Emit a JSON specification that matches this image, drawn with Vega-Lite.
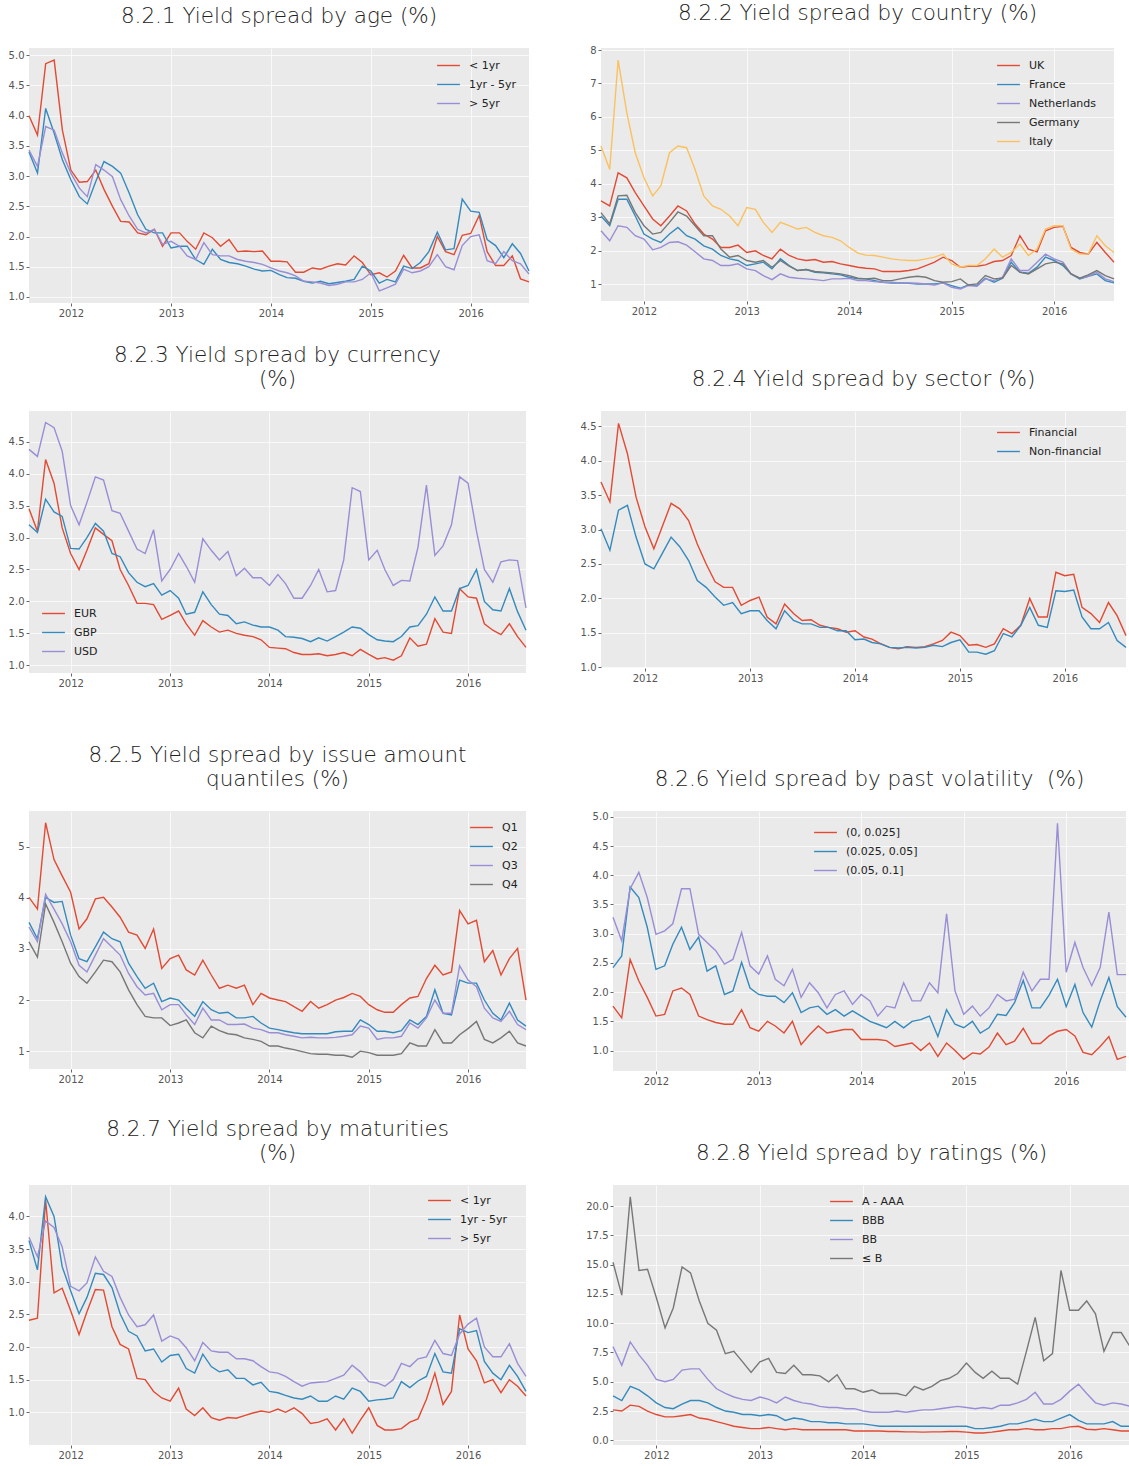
{
"$schema":"https://vega.github.io/schema/vega-lite/v6.json",
"padding":{"left":8,"top":2,"right":0,"bottom":0},
"background":"#ffffff",
"config":{
 "view":{"fill":"#EAEAEA","stroke":null},
 "axis":{"domain":false,"grid":true,"gridColor":"#ffffff","gridWidth":1,"gridOpacity":0.7,"tickColor":"#666666","tickSize":3,"labelColor":"#555555","labelFont":"DejaVu Sans","labelFontSize":10,"labelPadding":2},
 "legend":{"orient":"none","title":null,"symbolType":"stroke","symbolSize":520,"symbolStrokeWidth":1.6,"labelFont":"DejaVu Sans","labelFontSize":11,"labelColor":"#222222","labelOffset":8,"rowPadding":1,"padding":0},
 "title":{"font":"DejaVu Sans","fontWeight":200,"fontSize":21.5,"color":"#222222","offset":21,"anchor":"middle","lineHeight":24},
 "line":{"strokeWidth":1.4,"clip":true}
},
"datasets":{"m":[
{"m":"2011-08","a1":4.0,"a2":3.4,"a3":3.43,"b1":3.49,"b2":3.04,"b3":2.6,"b4":3.14,"b5":5.13,"c1":3.45,"c2":3.2,"c3":4.38,"d1":3.69,"d2":3.01,"e1":4.01,"e2":3.52,"e3":3.43,"e4":3.14,"f1":1.76,"f2":2.42,"f3":3.28,"g1":2.41,"g2":3.63,"g3":3.68,"h1":2.6,"h2":3.8,"h3":8.0,"h4":15.2},
{"m":"2011-09","a1":3.68,"a2":3.05,"a3":3.16,"b1":3.34,"b2":2.75,"b3":2.3,"b4":2.8,"b5":4.43,"c1":3.1,"c2":3.08,"c3":4.27,"d1":3.4,"d2":2.7,"e1":3.78,"e2":3.2,"e3":3.14,"e4":2.84,"f1":1.56,"f2":2.62,"f3":2.88,"g1":2.44,"g2":3.18,"g3":3.38,"h1":2.5,"h2":3.4,"h3":6.4,"h4":12.4},
{"m":"2011-10","a1":4.86,"a2":4.12,"a3":3.82,"b1":4.33,"b2":3.54,"b3":2.75,"b4":3.64,"b5":7.7,"c1":4.22,"c2":3.6,"c3":4.8,"d1":4.54,"d2":3.28,"e1":5.47,"e2":4.01,"e3":4.07,"e4":3.88,"f1":2.56,"f2":3.8,"f3":3.77,"g1":4.25,"g2":4.3,"g3":3.93,"h1":3.0,"h2":4.6,"h3":8.4,"h4":20.8},
{"m":"2011-11","a1":4.92,"a2":3.71,"a3":3.76,"b1":4.18,"b2":3.54,"b3":2.7,"b4":3.66,"b5":6.12,"c1":3.85,"c2":3.4,"c3":4.72,"d1":4.1,"d2":3.35,"e1":4.75,"e2":3.91,"e3":3.78,"e4":3.52,"f1":2.19,"f2":3.62,"f3":4.05,"g1":2.83,"g2":4.0,"g3":3.83,"h1":2.9,"h2":4.3,"h3":7.3,"h4":14.5},
{"m":"2011-12","a1":3.76,"a2":3.27,"a3":3.38,"b1":3.74,"b2":3.04,"b3":2.45,"b4":3.14,"b5":4.93,"c1":3.15,"c2":3.33,"c3":4.35,"d1":3.47,"d2":2.89,"e1":4.43,"e2":3.93,"e3":3.49,"e4":3.14,"f1":1.91,"f2":3.11,"f3":3.62,"g1":2.9,"g2":3.23,"g3":3.53,"h1":2.5,"h2":3.8,"h3":6.4,"h4":14.6},
{"m":"2012-01","a1":3.1,"a2":2.94,"a3":3.05,"b1":3.34,"b2":2.5,"b3":2.35,"b4":2.75,"b5":4.18,"c1":2.75,"c2":2.83,"c3":3.5,"d1":3.04,"d2":2.5,"e1":4.11,"e2":3.27,"e3":3.14,"e4":2.72,"f1":1.59,"f2":2.39,"f3":2.99,"g1":2.56,"g2":2.86,"g3":2.93,"h1":2.2,"h2":3.2,"h3":5.2,"h4":12.2},
{"m":"2012-02","a1":2.9,"a2":2.66,"a3":2.8,"b1":2.95,"b2":2.35,"b3":2.03,"b4":2.5,"b5":3.64,"c1":2.5,"c2":2.82,"c3":3.2,"d1":2.72,"d2":2.43,"e1":3.39,"e2":2.81,"e3":2.68,"e4":2.46,"f1":1.62,"f2":2.45,"f3":3.05,"g1":2.19,"g2":2.51,"g3":2.86,"h1":2.0,"h2":2.8,"h3":5.0,"h4":9.6},
{"m":"2012-03","a1":2.91,"a2":2.54,"a3":2.66,"b1":2.75,"b2":2.25,"b3":2.1,"b4":2.55,"b5":3.94,"c1":2.8,"c2":3.0,"c3":3.55,"d1":3.04,"d2":2.65,"e1":3.59,"e2":2.75,"e3":2.55,"e4":2.33,"f1":2.02,"f2":2.82,"f3":3.17,"g1":2.54,"g2":2.76,"g3":2.98,"h1":2.0,"h2":2.7,"h3":5.2,"h4":11.3},
{"m":"2012-04","a1":3.1,"a2":2.91,"a3":3.19,"b1":3.04,"b2":2.5,"b3":2.25,"b4":2.85,"b5":4.93,"c1":3.15,"c2":3.22,"c3":3.95,"d1":3.38,"d2":2.89,"e1":3.98,"e2":3.04,"e3":2.88,"e4":2.55,"f1":2.07,"f2":3.11,"f3":3.77,"g1":2.88,"g2":3.13,"g3":3.38,"h1":2.1,"h2":3.1,"h3":6.0,"h4":14.8},
{"m":"2012-05","a1":2.78,"a2":3.24,"a3":3.1,"b1":3.34,"b2":2.7,"b3":2.27,"b4":3.16,"b5":5.13,"c1":3.05,"c2":3.1,"c3":3.9,"d1":3.3,"d2":2.75,"e1":4.01,"e2":3.33,"e3":3.2,"e4":2.78,"f1":1.96,"f2":2.73,"f3":3.77,"g1":2.87,"g2":3.11,"g3":3.16,"h1":2.2,"h2":3.4,"h3":6.1,"h4":14.3},
{"m":"2012-06","a1":2.5,"a2":3.16,"a3":2.99,"b1":3.19,"b2":2.45,"b3":2.17,"b4":3.04,"b5":5.08,"c1":2.95,"c2":2.75,"c3":3.42,"d1":3.13,"d2":2.55,"e1":3.82,"e2":3.2,"e3":3.04,"e4":2.75,"f1":1.59,"f2":2.94,"f3":2.99,"g1":2.31,"g2":2.91,"g3":3.08,"h1":1.9,"h2":3.4,"h3":6.1,"h4":11.9},
{"m":"2012-07","a1":2.25,"a2":3.05,"a3":2.61,"b1":2.8,"b2":2.35,"b3":1.97,"b4":2.75,"b5":4.43,"c1":2.5,"c2":2.7,"c3":3.38,"d1":2.79,"d2":2.26,"e1":3.62,"e2":3.14,"e3":2.88,"e4":2.55,"f1":1.53,"f2":2.36,"f3":2.85,"g1":2.04,"g2":2.51,"g3":2.76,"h1":1.8,"h2":3.2,"h3":5.2,"h4":10.0},
{"m":"2012-08","a1":2.24,"a2":2.72,"a3":2.34,"b1":2.5,"b2":2.15,"b3":1.76,"b4":2.45,"b5":3.64,"c1":2.25,"c2":2.45,"c3":3.1,"d1":2.5,"d2":2.16,"e1":3.33,"e2":2.72,"e3":2.52,"e4":2.2,"f1":1.48,"f2":2.45,"f3":2.71,"g1":1.97,"g2":2.24,"g3":2.49,"h1":1.6,"h2":2.8,"h3":4.4,"h4":9.4},
{"m":"2012-09","a1":2.06,"a2":2.36,"a3":2.12,"b1":2.35,"b2":2.05,"b3":1.71,"b4":2.45,"b5":3.34,"c1":1.97,"c2":2.3,"c3":2.82,"d1":2.24,"d2":2.02,"e1":3.27,"e2":2.46,"e3":2.26,"e4":1.91,"f1":1.45,"f2":1.96,"f3":2.48,"g1":1.52,"g2":2.17,"g3":2.31,"h1":1.4,"h2":2.5,"h3":4.0,"h4":7.4},
{"m":"2012-10","a1":2.03,"a2":2.12,"a3":2.06,"b1":2.1,"b2":1.86,"b3":1.56,"b4":2.05,"b5":3.24,"c1":1.97,"c2":2.23,"c3":2.75,"d1":2.16,"d2":1.9,"e1":3.01,"e2":2.23,"e3":2.1,"e4":1.68,"f1":1.45,"f2":2.02,"f3":2.56,"g1":1.5,"g2":1.94,"g3":2.34,"h1":1.2,"h2":2.4,"h3":3.7,"h4":7.6},
{"m":"2012-11","a1":2.12,"a2":2.06,"a3":2.12,"b1":2.1,"b2":1.76,"b3":1.56,"b4":1.81,"b5":3.04,"c1":1.95,"c2":2.28,"c3":3.12,"d1":2.16,"d2":1.94,"e1":3.39,"e2":2.33,"e3":2.13,"e4":1.65,"f1":1.7,"f2":2.51,"f3":3.02,"g1":1.32,"g2":1.97,"g3":2.49,"h1":1.1,"h2":2.2,"h3":3.5,"h4":6.7},
{"m":"2012-12","a1":1.84,"a2":2.06,"a3":1.87,"b1":2.17,"b2":1.71,"b3":1.61,"b4":1.86,"b5":2.75,"c1":1.72,"c2":2.1,"c3":2.32,"d1":1.9,"d2":1.78,"e1":2.62,"e2":1.97,"e3":1.81,"e4":1.65,"f1":1.39,"f2":2.07,"f3":2.45,"g1":1.22,"g2":1.77,"g3":2.09,"h1":1.0,"h2":2.2,"h3":3.4,"h4":5.8},
{"m":"2013-01","a1":2.06,"a2":1.81,"a3":1.92,"b1":1.95,"b2":1.56,"b3":1.46,"b4":1.71,"b5":3.29,"c1":1.78,"c2":2.17,"c3":2.5,"d1":1.97,"d2":1.82,"e1":2.81,"e2":2.04,"e3":1.91,"e4":1.5,"f1":1.33,"f2":1.96,"f3":2.31,"g1":1.17,"g2":1.87,"g3":2.17,"h1":1.0,"h2":2.1,"h3":3.7,"h4":6.7},
{"m":"2013-02","a1":2.06,"a2":1.84,"a3":1.84,"b1":2.0,"b2":1.61,"b3":1.41,"b4":1.66,"b5":3.24,"c1":1.85,"c2":2.05,"c3":2.75,"d1":2.02,"d2":1.82,"e1":2.88,"e2":2.0,"e3":1.91,"e4":1.55,"f1":1.5,"f2":1.93,"f3":2.62,"g1":1.37,"g2":1.89,"g3":2.12,"h1":1.1,"h2":2.2,"h3":3.5,"h4":7.0},
{"m":"2013-03","a1":1.92,"a2":1.84,"a3":1.68,"b1":1.86,"b2":1.66,"b3":1.26,"b4":1.71,"b5":2.85,"c1":1.65,"c2":1.8,"c3":2.55,"d1":1.73,"d2":1.68,"e1":2.59,"e2":1.84,"e3":1.71,"e4":1.61,"f1":1.42,"f2":1.93,"f3":2.22,"g1":1.05,"g2":1.67,"g3":1.99,"h1":1.0,"h2":2.1,"h3":3.2,"h4":5.8},
{"m":"2013-04","a1":1.79,"a2":1.62,"a3":1.62,"b1":1.76,"b2":1.46,"b3":1.14,"b4":1.51,"b5":2.55,"c1":1.47,"c2":1.83,"c3":2.3,"d1":1.63,"d2":1.56,"e1":2.49,"e2":1.68,"e3":1.52,"e4":1.36,"f1":1.3,"f2":1.82,"f3":2.11,"g1":0.95,"g2":1.6,"g3":1.79,"h1":0.9,"h2":1.7,"h3":3.7,"h4":5.7},
{"m":"2013-05","a1":2.06,"a2":1.54,"a3":1.9,"b1":2.05,"b2":1.76,"b3":1.31,"b4":1.71,"b5":2.85,"c1":1.7,"c2":2.15,"c3":2.98,"d1":1.92,"d2":1.82,"e1":2.78,"e2":1.97,"e3":1.84,"e4":1.26,"f1":1.5,"f2":1.99,"f3":2.39,"g1":1.07,"g2":1.89,"g3":2.07,"h1":1.0,"h2":1.9,"h3":3.4,"h4":6.4},
{"m":"2013-06","a1":1.98,"a2":1.79,"a3":1.7,"b1":1.86,"b2":1.56,"b3":1.21,"b4":1.54,"b5":2.75,"c1":1.6,"c2":1.95,"c3":2.8,"d1":1.78,"d2":1.68,"e1":2.49,"e2":1.81,"e3":1.61,"e4":1.49,"f1":1.1,"f2":1.65,"f3":1.91,"g1":0.92,"g2":1.7,"g3":1.94,"h1":0.9,"h2":1.8,"h3":3.2,"h4":5.6},
{"m":"2013-07","a1":1.84,"a2":1.62,"a3":1.68,"b1":1.76,"b2":1.41,"b3":1.18,"b4":1.41,"b5":2.65,"c1":1.52,"c2":1.8,"c3":2.65,"d1":1.68,"d2":1.63,"e1":2.23,"e2":1.74,"e3":1.61,"e4":1.4,"f1":1.27,"f2":1.73,"f3":2.16,"g1":0.88,"g2":1.62,"g3":1.92,"h1":0.9,"h2":1.6,"h3":3.1,"h4":5.6},
{"m":"2013-08","a1":1.95,"a2":1.57,"a3":1.68,"b1":1.71,"b2":1.44,"b3":1.16,"b4":1.44,"b5":2.7,"c1":1.55,"c2":1.78,"c3":2.78,"d1":1.69,"d2":1.63,"e1":2.29,"e2":1.76,"e3":1.52,"e4":1.34,"f1":1.42,"f2":1.76,"f3":1.99,"g1":0.92,"g2":1.65,"g3":1.92,"h1":0.9,"h2":1.6,"h3":2.9,"h4":5.5},
{"m":"2013-09","a1":1.75,"a2":1.55,"a3":1.62,"b1":1.74,"b2":1.36,"b3":1.14,"b4":1.38,"b5":2.55,"c1":1.5,"c2":1.65,"c3":2.4,"d1":1.61,"d2":1.58,"e1":2.23,"e2":1.65,"e3":1.52,"e4":1.32,"f1":1.3,"f2":1.62,"f3":1.73,"g1":0.91,"g2":1.52,"g3":1.82,"h1":0.9,"h2":1.5,"h3":2.8,"h4":5.0},
{"m":"2013-10","a1":1.76,"a2":1.51,"a3":1.59,"b1":1.66,"b2":1.34,"b3":1.11,"b4":1.36,"b5":2.45,"c1":1.47,"c2":1.68,"c3":2.52,"d1":1.58,"d2":1.58,"e1":2.29,"e2":1.65,"e3":1.53,"e4":1.26,"f1":1.33,"f2":1.7,"f3":1.96,"g1":0.95,"g2":1.52,"g3":1.82,"h1":0.9,"h2":1.5,"h3":2.8,"h4":5.6},
{"m":"2013-11","a1":1.75,"a2":1.46,"a3":1.57,"b1":1.68,"b2":1.31,"b3":1.16,"b4":1.34,"b5":2.4,"c1":1.45,"c2":1.63,"c3":2.37,"d1":1.56,"d2":1.53,"e1":1.91,"e2":1.68,"e3":1.45,"e4":1.23,"f1":1.36,"f2":1.59,"f3":2.02,"g1":0.99,"g2":1.42,"g3":1.79,"h1":0.9,"h2":1.4,"h3":2.7,"h4":4.4},
{"m":"2013-12","a1":1.76,"a2":1.43,"a3":1.54,"b1":1.61,"b2":1.28,"b3":1.16,"b4":1.31,"b5":2.3,"c1":1.4,"c2":1.6,"c3":2.37,"d1":1.51,"d2":1.53,"e1":2.13,"e2":1.55,"e3":1.42,"e4":1.19,"f1":1.36,"f2":1.68,"f3":1.79,"g1":1.02,"g2":1.46,"g3":1.7,"h1":0.8,"h2":1.4,"h3":2.7,"h4":4.4},
{"m":"2014-01","a1":1.59,"a2":1.44,"a3":1.48,"b1":1.56,"b2":1.21,"b3":1.18,"b4":1.26,"b5":2.1,"c1":1.28,"c2":1.6,"c3":2.25,"d1":1.53,"d2":1.4,"e1":2.04,"e2":1.45,"e3":1.36,"e4":1.1,"f1":1.19,"f2":1.59,"f3":1.96,"g1":1.0,"g2":1.32,"g3":1.62,"h1":0.8,"h2":1.4,"h3":2.5,"h4":4.1},
{"m":"2014-02","a1":1.59,"a2":1.37,"a3":1.43,"b1":1.51,"b2":1.16,"b3":1.11,"b4":1.18,"b5":1.93,"c1":1.27,"c2":1.55,"c3":2.42,"d1":1.44,"d2":1.41,"e1":2.0,"e2":1.42,"e3":1.36,"e4":1.1,"f1":1.19,"f2":1.5,"f3":1.85,"g1":1.05,"g2":1.3,"g3":1.6,"h1":0.8,"h2":1.3,"h3":2.4,"h4":4.3},
{"m":"2014-03","a1":1.58,"a2":1.32,"a3":1.4,"b1":1.48,"b2":1.16,"b3":1.11,"b4":1.16,"b5":1.87,"c1":1.26,"c2":1.45,"c3":2.28,"d1":1.41,"d2":1.36,"e1":1.97,"e2":1.39,"e3":1.32,"e4":1.06,"f1":1.19,"f2":1.45,"f3":1.59,"g1":1.0,"g2":1.26,"g3":1.55,"h1":0.8,"h2":1.2,"h3":2.4,"h4":4.0},
{"m":"2014-04","a1":1.41,"a2":1.31,"a3":1.35,"b1":1.46,"b2":1.11,"b3":1.08,"b4":1.18,"b5":1.86,"c1":1.2,"c2":1.44,"c3":2.05,"d1":1.34,"d2":1.34,"e1":1.87,"e2":1.36,"e3":1.29,"e4":1.03,"f1":1.17,"f2":1.39,"f3":1.76,"g1":1.07,"g2":1.22,"g3":1.47,"h1":0.75,"h2":1.2,"h3":2.4,"h4":4.0},
{"m":"2014-05","a1":1.41,"a2":1.26,"a3":1.26,"b1":1.38,"b2":1.06,"b3":1.06,"b4":1.11,"b5":1.81,"c1":1.17,"c2":1.42,"c3":2.05,"d1":1.29,"d2":1.29,"e1":1.78,"e2":1.34,"e3":1.26,"e4":0.99,"f1":1.07,"f2":1.5,"f3":1.73,"g1":0.98,"g2":1.2,"g3":1.4,"h1":0.75,"h2":1.2,"h3":2.5,"h4":4.0},
{"m":"2014-06","a1":1.48,"a2":1.23,"a3":1.25,"b1":1.38,"b2":1.04,"b3":1.06,"b4":1.11,"b5":1.76,"c1":1.17,"c2":1.37,"c3":2.25,"d1":1.27,"d2":1.28,"e1":1.97,"e2":1.34,"e3":1.27,"e4":0.95,"f1":1.1,"f2":1.39,"f3":2.16,"g1":0.83,"g2":1.25,"g3":1.45,"h1":0.72,"h2":1.2,"h3":2.4,"h4":3.8},
{"m":"2014-07","a1":1.46,"a2":1.26,"a3":1.23,"b1":1.38,"b2":1.04,"b3":1.04,"b4":1.16,"b5":1.73,"c1":1.18,"c2":1.43,"c3":2.5,"d1":1.3,"d2":1.29,"e1":1.84,"e2":1.34,"e3":1.26,"e4":0.94,"f1":1.13,"f2":1.5,"f3":1.85,"g1":0.85,"g2":1.17,"g3":1.46,"h1":0.72,"h2":1.2,"h3":2.5,"h4":4.6},
{"m":"2014-08","a1":1.51,"a2":1.22,"a3":1.19,"b1":1.41,"b2":1.03,"b3":1.04,"b4":1.21,"b5":1.71,"c1":1.15,"c2":1.38,"c3":2.15,"d1":1.29,"d2":1.28,"e1":1.91,"e2":1.34,"e3":1.26,"e4":0.94,"f1":1.0,"f2":1.53,"f3":1.85,"g1":0.9,"g2":1.17,"g3":1.47,"h1":0.7,"h2":1.2,"h3":2.6,"h4":4.3},
{"m":"2014-09","a1":1.55,"a2":1.24,"a3":1.21,"b1":1.46,"b2":1.01,"b3":1.03,"b4":1.24,"b5":1.71,"c1":1.17,"c2":1.45,"c3":2.17,"d1":1.3,"d2":1.29,"e1":2.0,"e2":1.38,"e3":1.27,"e4":0.92,"f1":1.13,"f2":1.59,"f3":2.16,"g1":0.73,"g2":1.25,"g3":1.52,"h1":0.72,"h2":1.2,"h3":2.6,"h4":4.6},
{"m":"2014-10","a1":1.53,"a2":1.26,"a3":1.25,"b1":1.56,"b2":1.01,"b3":1.01,"b4":1.21,"b5":1.76,"c1":1.2,"c2":1.52,"c3":2.65,"d1":1.34,"d2":1.32,"e1":2.05,"e2":1.39,"e3":1.29,"e4":0.92,"f1":0.9,"f2":1.24,"f3":1.99,"g1":0.9,"g2":1.2,"g3":1.57,"h1":0.72,"h2":1.2,"h3":2.7,"h4":5.1},
{"m":"2014-11","a1":1.68,"a2":1.29,"a3":1.25,"b1":1.66,"b2":1.01,"b3":0.98,"b4":1.11,"b5":1.81,"c1":1.15,"c2":1.6,"c3":3.78,"d1":1.39,"d2":1.3,"e1":2.13,"e2":1.39,"e3":1.32,"e4":0.88,"f1":1.13,"f2":1.7,"f3":3.34,"g1":0.68,"g2":1.37,"g3":1.72,"h1":0.75,"h2":1.2,"h3":2.8,"h4":5.3},
{"m":"2014-12","a1":1.57,"a2":1.51,"a3":1.29,"b1":1.81,"b2":1.04,"b3":1.04,"b4":1.06,"b5":1.9,"c1":1.25,"c2":1.58,"c3":3.72,"d1":1.51,"d2":1.36,"e1":2.07,"e2":1.61,"e3":1.49,"e4":1.0,"f1":1.0,"f2":1.45,"f3":2.02,"g1":0.88,"g2":1.32,"g3":1.62,"h1":0.75,"h2":1.2,"h3":2.9,"h4":5.7},
{"m":"2015-01","a1":1.37,"a2":1.43,"a3":1.4,"b1":1.71,"b2":0.96,"b3":0.91,"b4":1.08,"b5":1.61,"c1":1.17,"c2":1.48,"c3":2.65,"d1":1.46,"d2":1.4,"e1":1.91,"e2":1.52,"e3":1.45,"e4":0.97,"f1":0.85,"f2":1.39,"f3":1.62,"g1":1.07,"g2":1.17,"g3":1.47,"h1":0.7,"h2":1.2,"h3":2.8,"h4":6.6},
{"m":"2015-02","a1":1.4,"a2":1.23,"a3":1.1,"b1":1.51,"b2":0.88,"b3":0.86,"b4":1.16,"b5":1.51,"c1":1.1,"c2":1.4,"c3":2.8,"d1":1.32,"d2":1.22,"e1":1.81,"e2":1.39,"e3":1.23,"e4":0.92,"f1":0.96,"f2":1.5,"f3":1.76,"g1":0.8,"g2":1.19,"g3":1.45,"h1":0.63,"h2":1.0,"h3":2.7,"h4":5.8},
{"m":"2015-03","a1":1.33,"a2":1.29,"a3":1.15,"b1":1.54,"b2":0.98,"b3":0.96,"b4":0.98,"b5":1.56,"c1":1.12,"c2":1.38,"c3":2.5,"d1":1.33,"d2":1.22,"e1":1.76,"e2":1.39,"e3":1.26,"e4":0.92,"f1":0.94,"f2":1.3,"f3":1.59,"g1":0.73,"g2":1.2,"g3":1.4,"h1":0.63,"h2":1.0,"h3":2.8,"h4":5.3},
{"m":"2015-04","a1":1.43,"a2":1.25,"a3":1.21,"b1":1.54,"b2":0.96,"b3":0.94,"b4":1.01,"b5":1.56,"c1":1.08,"c2":1.37,"c3":2.25,"d1":1.29,"d2":1.19,"e1":1.76,"e2":1.36,"e3":1.26,"e4":0.92,"f1":1.06,"f2":1.39,"f3":1.73,"g1":0.73,"g2":1.22,"g3":1.5,"h1":0.7,"h2":1.1,"h3":2.7,"h4":5.9},
{"m":"2015-05","a1":1.69,"a2":1.51,"a3":1.46,"b1":1.58,"b2":1.18,"b3":1.16,"b4":1.26,"b5":1.76,"c1":1.15,"c2":1.45,"c3":2.33,"d1":1.34,"d2":1.24,"e1":1.91,"e2":1.4,"e3":1.29,"e4":0.95,"f1":1.3,"f2":1.62,"f3":1.96,"g1":0.75,"g2":1.47,"g3":1.75,"h1":0.8,"h2":1.2,"h3":3.0,"h4":5.3},
{"m":"2015-06","a1":1.48,"a2":1.47,"a3":1.4,"b1":1.68,"b2":1.06,"b3":1.11,"b4":1.16,"b5":2.05,"c1":1.43,"c2":1.6,"c3":2.32,"d1":1.56,"d2":1.49,"e1":2.04,"e2":1.61,"e3":1.55,"e4":1.16,"f1":1.1,"f2":1.6,"f3":1.85,"g1":0.85,"g2":1.38,"g3":1.7,"h1":0.9,"h2":1.4,"h3":3.0,"h4":5.3},
{"m":"2015-07","a1":1.48,"a2":1.57,"a3":1.43,"b1":1.71,"b2":1.18,"b3":1.21,"b4":1.18,"b5":1.81,"c1":1.3,"c2":1.62,"c3":2.85,"d1":1.49,"d2":1.44,"e1":2.07,"e2":1.52,"e3":1.45,"e4":1.1,"f1":1.16,"f2":1.82,"f3":1.88,"g1":0.9,"g2":1.48,"g3":1.82,"h1":0.9,"h2":1.4,"h3":3.2,"h4":4.8},
{"m":"2015-08","a1":1.55,"a2":1.75,"a3":1.5,"b1":1.86,"b2":1.66,"b3":1.76,"b4":1.56,"b5":1.95,"c1":1.33,"c2":1.8,"c3":3.82,"d1":1.61,"d2":1.61,"e1":2.42,"e2":1.68,"e3":1.65,"e4":1.1,"f1":1.38,"f2":2.2,"f3":2.34,"g1":1.2,"g2":1.55,"g3":1.85,"h1":1.0,"h2":1.6,"h3":3.5,"h4":7.6},
{"m":"2015-09","a1":2.0,"a2":2.07,"a3":1.7,"b1":2.45,"b2":1.36,"b3":1.41,"b4":1.36,"b5":2.2,"c1":1.73,"c2":2.07,"c3":2.72,"d1":2.0,"d2":1.87,"e1":2.68,"e2":2.2,"e3":2.0,"e4":1.42,"f1":1.12,"f2":1.73,"f3":2.02,"g1":1.6,"g2":1.9,"g3":2.1,"h1":0.9,"h2":1.8,"h3":4.1,"h4":10.5},
{"m":"2015-10","a1":1.75,"a2":1.78,"a3":1.5,"b1":2.05,"b2":1.33,"b3":1.41,"b4":1.31,"b5":1.86,"c1":1.52,"c2":1.85,"c3":2.87,"d1":1.73,"d2":1.61,"e1":2.49,"e2":1.74,"e3":1.74,"e4":1.16,"f1":1.12,"f2":1.73,"f3":2.22,"g1":1.12,"g2":1.62,"g3":1.9,"h1":0.9,"h2":1.6,"h3":3.1,"h4":6.8},
{"m":"2015-11","a1":1.7,"a2":1.8,"a3":1.45,"b1":1.97,"b2":1.51,"b3":1.66,"b4":1.46,"b5":2.05,"c1":1.5,"c2":1.85,"c3":3.2,"d1":1.73,"d2":1.58,"e1":2.55,"e2":1.71,"e3":1.74,"e4":1.16,"f1":1.25,"f2":1.95,"f3":2.22,"g1":1.32,"g2":1.6,"g3":1.87,"h1":1.0,"h2":1.6,"h3":3.1,"h4":7.4},
{"m":"2015-12","a1":2.02,"a2":2.62,"a3":1.85,"b1":2.6,"b2":1.81,"b3":1.9,"b4":1.61,"b5":2.65,"c1":2.2,"c2":2.2,"c3":3.95,"d1":2.38,"d2":2.11,"e1":3.75,"e2":2.39,"e3":2.67,"e4":1.32,"f1":1.33,"f2":2.22,"f3":4.89,"g1":2.49,"g2":2.28,"g3":2.2,"h1":1.0,"h2":1.9,"h3":3.5,"h4":14.5},
{"m":"2016-01","a1":2.05,"a2":2.42,"a3":2.0,"b1":2.7,"b2":1.71,"b3":1.76,"b4":1.66,"b5":2.75,"c1":2.07,"c2":2.25,"c3":3.85,"d1":2.33,"d2":2.1,"e1":3.49,"e2":2.33,"e3":2.39,"e4":1.44,"f1":1.36,"f2":1.75,"f3":2.34,"g1":1.97,"g2":2.22,"g3":2.35,"h1":1.15,"h2":2.2,"h3":4.2,"h4":11.1},
{"m":"2016-02","a1":2.35,"a2":2.4,"a3":2.03,"b1":2.73,"b2":1.56,"b3":1.66,"b4":1.61,"b5":2.75,"c1":2.05,"c2":2.5,"c3":3.1,"d1":2.35,"d2":2.12,"e1":3.56,"e2":2.33,"e3":2.26,"e4":1.58,"f1":1.25,"f2":2.13,"f3":2.85,"g1":1.79,"g2":2.25,"g3":2.44,"h1":1.2,"h2":1.7,"h3":4.8,"h4":11.1},
{"m":"2016-03","a1":1.75,"a2":1.95,"a3":1.6,"b1":2.1,"b2":1.31,"b3":1.31,"b4":1.31,"b5":2.05,"c1":1.65,"c2":2.0,"c3":2.5,"d1":1.87,"d2":1.73,"e1":2.75,"e2":2.0,"e3":1.84,"e4":1.23,"f1":0.97,"f2":1.65,"f3":2.42,"g1":1.45,"g2":1.78,"g3":2.0,"h1":0.95,"h2":1.4,"h3":4.0,"h4":11.9},
{"m":"2016-04","a1":1.52,"a2":1.85,"a3":1.55,"b1":1.95,"b2":1.16,"b3":1.18,"b4":1.18,"b5":1.9,"c1":1.55,"c2":1.87,"c3":2.3,"d1":1.78,"d2":1.56,"e1":2.97,"e2":1.74,"e3":1.65,"e4":1.16,"f1":0.93,"f2":1.4,"f3":2.11,"g1":1.5,"g2":1.6,"g3":1.85,"h1":0.9,"h2":1.4,"h3":3.2,"h4":10.8},
{"m":"2016-05","a1":1.52,"a2":1.65,"a3":1.75,"b1":1.9,"b2":1.24,"b3":1.24,"b4":1.28,"b5":1.9,"c1":1.48,"c2":1.85,"c3":2.62,"d1":1.65,"d2":1.56,"e1":2.49,"e2":1.61,"e3":1.58,"e4":1.26,"f1":1.07,"f2":1.85,"f3":2.42,"g1":1.3,"g2":1.5,"g3":1.85,"h1":1.0,"h2":1.4,"h3":3.0,"h4":7.6},
{"m":"2016-06","a1":1.68,"a2":1.88,"a3":1.6,"b1":2.25,"b2":1.31,"b3":1.36,"b4":1.41,"b5":2.45,"c1":1.65,"c2":2.2,"c3":2.65,"d1":1.94,"d2":1.65,"e1":2.81,"e2":1.94,"e3":1.78,"e4":1.39,"f1":1.24,"f2":2.25,"f3":3.37,"g1":1.5,"g2":1.72,"g3":2.05,"h1":0.9,"h2":1.6,"h3":3.2,"h4":9.2},
{"m":"2016-07","a1":1.3,"a2":1.72,"a3":1.55,"b1":1.95,"b2":1.11,"b3":1.16,"b4":1.26,"b5":2.15,"c1":1.45,"c2":1.84,"c3":2.64,"d1":1.75,"d2":1.39,"e1":3.01,"e2":1.61,"e3":1.52,"e4":1.16,"f1":0.85,"f2":1.75,"f3":2.3,"g1":1.4,"g2":1.55,"g3":1.75,"h1":0.8,"h2":1.2,"h3":3.1,"h4":9.2},
{"m":"2016-08","a1":1.25,"a2":1.43,"a3":1.38,"b1":1.66,"b2":1.04,"b3":1.08,"b4":1.16,"b5":1.95,"c1":1.28,"c2":1.55,"c3":1.9,"d1":1.46,"d2":1.29,"e1":2.0,"e2":1.49,"e3":1.42,"e4":1.1,"f1":0.9,"f2":1.57,"f3":2.3,"g1":1.25,"g2":1.32,"g3":1.55,"h1":0.8,"h2":1.2,"h3":2.9,"h4":8.0}
]},
"resolve":{"scale":{"x":"independent","y":"independent","color":"independent"},"legend":{"color":"independent"}},
"spacing":56,
"vconcat":[
{"spacing":26,"resolve":{"scale":{"x":"independent","y":"independent","color":"independent"},"legend":{"color":"independent"}},
 "vconcat":[
 {"spacing":57,"resolve":{"scale":{"x":"independent","y":"independent","color":"independent"},"legend":{"color":"independent"}},
  "hconcat":[
  {"title":"8.2.1 Yield spread by age (%)","width":500,"height":255,"data":{"name":"m"},
   "transform":[{"fold":["a1","a2","a3"],"as":["k","v"]}],
   "mark":{"type":"line"},
   "encoding":{
    "x":{"field":"m","type":"temporal","title":null,"scale":{"nice":false},"axis":{"format":"%Y","tickCount":{"interval":"year","step":1}}},
    "y":{"field":"v","type":"quantitative","title":null,"scale":{"domain":[0.9,5.12],"nice":false,"zero":false},"axis":{"values":[1,1.5,2,2.5,3,3.5,4,4.5,5],"format":".1f"}},
    "color":{"field":"k","type":"nominal","scale":{"domain":["a1","a2","a3"],"range":["#E24A33","#348ABD","#988ED5"]},"legend":{"legendX":407,"legendY":5,"labelExpr":"datum.value=='a1'?'< 1yr':datum.value=='a2'?'1yr - 5yr':'> 5yr'"}}}},
  {"title":"8.2.2 Yield spread by country (%)","width":513,"height":253,"data":{"name":"m"},
   "transform":[{"fold":["b1","b2","b3","b4","b5"],"as":["k","v"]}],
   "mark":{"type":"line"},
   "encoding":{
    "x":{"field":"m","type":"temporal","title":null,"scale":{"nice":false},"axis":{"format":"%Y","tickCount":{"interval":"year","step":1}}},
    "y":{"field":"v","type":"quantitative","title":null,"scale":{"domain":[0.5,8.06],"nice":false,"zero":false},"axis":{"values":[1,2,3,4,5,6,7,8],"format":"d"}},
    "color":{"field":"k","type":"nominal","scale":{"domain":["b1","b2","b3","b4","b5"],"range":["#E24A33","#348ABD","#988ED5","#777777","#FBC15E"]},"legend":{"legendX":395,"legendY":5,"labelExpr":"datum.value=='b1'?'UK':datum.value=='b2'?'France':datum.value=='b3'?'Netherlands':datum.value=='b4'?'Germany':'Italy'"}}}}
  ]},
 {"spacing":51,"resolve":{"scale":{"x":"independent","y":"independent","color":"independent"},"legend":{"color":"independent"}},
  "hconcat":[
  {"title":["8.2.3 Yield spread by currency","(%)"],"width":497,"height":262,"data":{"name":"m"},
   "transform":[{"fold":["c1","c2","c3"],"as":["k","v"]}],
   "mark":{"type":"line"},
   "encoding":{
    "x":{"field":"m","type":"temporal","title":null,"scale":{"nice":false},"axis":{"format":"%Y","tickCount":{"interval":"year","step":1}}},
    "y":{"field":"v","type":"quantitative","title":null,"scale":{"domain":[0.88,4.98],"nice":false,"zero":false},"axis":{"values":[1,1.5,2,2.5,3,3.5,4,4.5],"format":".1f"}},
    "color":{"field":"k","type":"nominal","scale":{"domain":["c1","c2","c3"],"range":["#E24A33","#348ABD","#988ED5"]},"legend":{"legendX":12,"legendY":190,"labelExpr":"datum.value=='c1'?'EUR':datum.value=='c2'?'GBP':'USD'"}}}},
  {"title":"8.2.4 Yield spread by sector (%)","width":525,"height":257,"data":{"name":"m"},
   "transform":[{"fold":["d1","d2"],"as":["k","v"]}],
   "mark":{"type":"line"},
   "encoding":{
    "x":{"field":"m","type":"temporal","title":null,"scale":{"nice":false},"axis":{"format":"%Y","tickCount":{"interval":"year","step":1}}},
    "y":{"field":"v","type":"quantitative","title":null,"scale":{"domain":[0.99,4.72],"nice":false,"zero":false},"axis":{"values":[1,1.5,2,2.5,3,3.5,4,4.5],"format":".1f"}},
    "color":{"field":"k","type":"nominal","scale":{"domain":["d1","d2"],"range":["#E24A33","#348ABD"]},"legend":{"legendX":395,"legendY":9,"labelExpr":"datum.value=='d1'?'Financial':'Non-financial'"}}}}
  ]}
 ]},
{"spacing":32,"resolve":{"scale":{"x":"independent","y":"independent","color":"independent"},"legend":{"color":"independent"}},
 "vconcat":[
 {"spacing":63,"resolve":{"scale":{"x":"independent","y":"independent","color":"independent"},"legend":{"color":"independent"}},
  "hconcat":[
  {"title":["8.2.5 Yield spread by issue amount","quantiles (%)"],"width":497,"height":258,"data":{"name":"m"},
   "transform":[{"fold":["e1","e2","e3","e4"],"as":["k","v"]}],
   "mark":{"type":"line"},
   "encoding":{
    "x":{"field":"m","type":"temporal","title":null,"scale":{"nice":false},"axis":{"format":"%Y","tickCount":{"interval":"year","step":1}}},
    "y":{"field":"v","type":"quantitative","title":null,"scale":{"domain":[0.65,5.7],"nice":false,"zero":false},"axis":{"values":[1,2,3,4,5],"format":"d"}},
    "color":{"field":"k","type":"nominal","scale":{"domain":["e1","e2","e3","e4"],"range":["#E24A33","#348ABD","#988ED5","#777777"]},"legend":{"legendX":440,"legendY":4,"labelExpr":"datum.value=='e1'?'Q1':datum.value=='e2'?'Q2':datum.value=='e3'?'Q3':'Q4'"}}}},
  {"title":"8.2.6 Yield spread by past volatility\u00a0 (%)","width":513,"height":260,"data":{"name":"m"},
   "transform":[{"fold":["f1","f2","f3"],"as":["k","v"]}],
   "mark":{"type":"line"},
   "encoding":{
    "x":{"field":"m","type":"temporal","title":null,"scale":{"nice":false},"axis":{"format":"%Y","tickCount":{"interval":"year","step":1}}},
    "y":{"field":"v","type":"quantitative","title":null,"scale":{"domain":[0.65,5.1],"nice":false,"zero":false},"axis":{"values":[1,1.5,2,2.5,3,3.5,4,4.5,5],"format":".1f"}},
    "color":{"field":"k","type":"nominal","scale":{"domain":["f1","f2","f3"],"range":["#E24A33","#348ABD","#988ED5"]},"legend":{"legendX":200,"legendY":9,"labelExpr":"datum.value=='f1'?'(0, 0.025]':datum.value=='f2'?'(0.025, 0.05]':'(0.05, 0.1]'"}}}}
  ]},
 {"spacing":56,"resolve":{"scale":{"x":"independent","y":"independent","color":"independent"},"legend":{"color":"independent"}},
  "hconcat":[
  {"title":["8.2.7 Yield spread by maturities","(%)"],"width":497,"height":260,"data":{"name":"m"},
   "transform":[{"fold":["g1","g2","g3"],"as":["k","v"]}],
   "mark":{"type":"line"},
   "encoding":{
    "x":{"field":"m","type":"temporal","title":null,"scale":{"nice":false},"axis":{"format":"%Y","tickCount":{"interval":"year","step":1}}},
    "y":{"field":"v","type":"quantitative","title":null,"scale":{"domain":[0.5,4.48],"nice":false,"zero":false},"axis":{"values":[1,1.5,2,2.5,3,3.5,4],"format":".1f"}},
    "color":{"field":"k","type":"nominal","scale":{"domain":["g1","g2","g3"],"range":["#E24A33","#348ABD","#988ED5"]},"legend":{"legendX":398,"legendY":3,"labelExpr":"datum.value=='g1'?'< 1yr':datum.value=='g2'?'1yr - 5yr':'> 5yr'"}}}},
  {"title":"8.2.8 Yield spread by ratings (%)","width":517,"height":260,"data":{"name":"m"},
   "transform":[{"fold":["h1","h2","h3","h4"],"as":["k","v"]}],
   "mark":{"type":"line"},
   "encoding":{
    "x":{"field":"m","type":"temporal","title":null,"scale":{"nice":false},"axis":{"format":"%Y","tickCount":{"interval":"year","step":1}}},
    "y":{"field":"v","type":"quantitative","title":null,"scale":{"domain":[-0.4,21.8],"nice":false,"zero":false},"axis":{"values":[0,2.5,5,7.5,10,12.5,15,17.5,20],"format":".1f"}},
    "color":{"field":"k","type":"nominal","scale":{"domain":["h1","h2","h3","h4"],"range":["#E24A33","#348ABD","#988ED5","#777777"]},"legend":{"legendX":216,"legendY":4,"labelExpr":"datum.value=='h1'?'A - AAA':datum.value=='h2'?'BBB':datum.value=='h3'?'BB':'≤ B'"}}}}
  ]}
 ]}
]
}
